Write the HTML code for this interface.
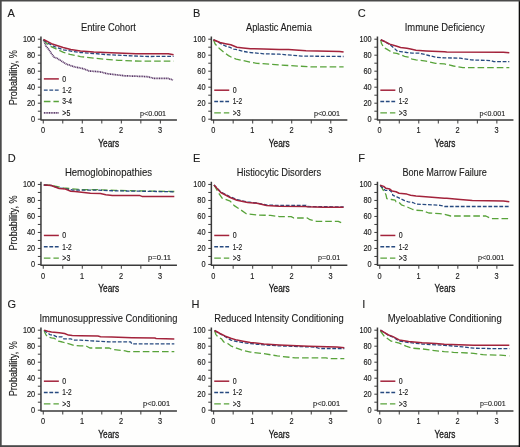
<!DOCTYPE html><html><head><meta charset="utf-8"><style>html,body{margin:0;padding:0;background:#fefefd;}svg{display:block;will-change:transform} text{stroke:#1c1c1c;stroke-width:0.12px} text.tk{stroke-width:0.16px}</style></head><body>
<svg width="520" height="447" viewBox="0 0 520 447" font-family="Liberation Sans, sans-serif" stroke-linejoin="round">
<rect x="0" y="0" width="520" height="447" fill="#fefefd"/>
<g><text x="7.40" y="16.80" font-size="11" fill="#1c1c1c">A</text><text x="80.95" y="31.20" font-size="10.1" fill="#1c1c1c" textLength="55.00" lengthAdjust="spacingAndGlyphs">Entire Cohort</text><path d="M40.95,36.40V119.90H176.95" stroke="#3a3a3a" stroke-width="1.5" fill="none"/><path d="M37.85,39.20H40.95M37.85,47.20H40.95M37.85,55.20H40.95M37.85,63.20H40.95M37.85,71.20H40.95M37.85,79.20H40.95M37.85,87.20H40.95M37.85,95.20H40.95M37.85,103.20H40.95M37.85,111.20H40.95M37.85,119.20H40.95M43.25,119.90V123.50M62.77,119.90V123.50M82.29,119.90V123.50M101.81,119.90V123.50M121.33,119.90V123.50M140.85,119.90V123.50M160.37,119.90V123.50" stroke="#3a3a3a" stroke-width="1" fill="none"/><text x="22.95" y="42.10" font-size="8.3" fill="#1c1c1c" textLength="12.2" lengthAdjust="spacingAndGlyphs" class="tk">100</text><text x="26.95" y="58.10" font-size="8.3" fill="#1c1c1c" textLength="8.2" lengthAdjust="spacingAndGlyphs" class="tk">80</text><text x="26.95" y="74.10" font-size="8.3" fill="#1c1c1c" textLength="8.2" lengthAdjust="spacingAndGlyphs" class="tk">60</text><text x="26.95" y="90.10" font-size="8.3" fill="#1c1c1c" textLength="8.2" lengthAdjust="spacingAndGlyphs" class="tk">40</text><text x="26.95" y="106.10" font-size="8.3" fill="#1c1c1c" textLength="8.2" lengthAdjust="spacingAndGlyphs" class="tk">20</text><text x="31.05" y="122.10" font-size="8.3" fill="#1c1c1c" textLength="4.1" lengthAdjust="spacingAndGlyphs" class="tk">0</text><text x="40.90" y="133.40" font-size="8.3" fill="#1c1c1c" textLength="4.1" lengthAdjust="spacingAndGlyphs" class="tk">0</text><text x="79.94" y="133.40" font-size="8.3" fill="#1c1c1c" textLength="4.1" lengthAdjust="spacingAndGlyphs" class="tk">1</text><text x="118.98" y="133.40" font-size="8.3" fill="#1c1c1c" textLength="4.1" lengthAdjust="spacingAndGlyphs" class="tk">2</text><text x="158.02" y="133.40" font-size="8.3" fill="#1c1c1c" textLength="4.1" lengthAdjust="spacingAndGlyphs" class="tk">3</text><text x="98.30" y="146.60" font-size="10" fill="#1c1c1c" textLength="20.9" lengthAdjust="spacingAndGlyphs" style="stroke-width:0.3px">Years</text><text transform="translate(16.8,77.70) rotate(-90)" x="-27.6" y="0" font-size="10.6" fill="#1c1c1c" textLength="55.2" lengthAdjust="spacingAndGlyphs">Probability, %</text><text x="140.00" y="116.00" font-size="7.4" fill="#1c1c1c" textLength="26.10" lengthAdjust="spacingAndGlyphs">p&lt;0.001</text><path d="M43.85,78.90H58.85" stroke="#a3233b" stroke-width="1.5" fill="none" stroke-linejoin="round"/><text x="62.35" y="81.65" font-size="8.2" fill="#1c1c1c" class="tk" textLength="3.9" lengthAdjust="spacingAndGlyphs">0</text><path d="M43.85,90.20H58.85" stroke="#274a80" stroke-width="1.3" fill="none" stroke-dasharray="3.8 1.7"/><text x="62.35" y="92.95" font-size="8.2" fill="#1c1c1c" class="tk" textLength="9.4" lengthAdjust="spacingAndGlyphs">1-2</text><path d="M43.85,101.50H58.85" stroke="#58a33a" stroke-width="1.3" fill="none" stroke-dasharray="6.6 3.0"/><text x="62.35" y="104.25" font-size="8.2" fill="#1c1c1c" class="tk" textLength="9.8" lengthAdjust="spacingAndGlyphs">3-4</text><path d="M43.85,112.80H58.85" stroke="#5a3868" stroke-width="1.7" fill="none" stroke-dasharray="1.1 0.6"/><text x="62.35" y="115.55" font-size="8.2" fill="#1c1c1c" class="tk" textLength="8.0" lengthAdjust="spacingAndGlyphs">&gt;5</text><polyline points="43.5,39.6 44.4,42.0 46.0,46.1 48.7,49.4 51.4,53.4 54.1,57.2 56.8,58.1 60.1,60.2 66.2,64.0 73.8,66.7 83.1,68.6 89.2,71.0 100.0,71.8 107.3,73.7 124.6,75.8 147.1,76.6 154.0,78.4 167.9,78.4 173.0,80.0" stroke="#5a3868" stroke-width="1.7" fill="none" stroke-dasharray="1.1 0.6"/><polyline points="43.5,40.0 46.0,42.7 50.0,46.1 56.8,49.3 63.5,52.4 70.0,54.3 80.4,56.6 93.8,58.1 105.0,59.2 118.5,60.3 140.0,61.2 173.6,61.2" stroke="#58a33a" stroke-width="1.3" fill="none" stroke-dasharray="6.6 3.0"/><polyline points="43.5,40.0 47.7,43.0 53.4,46.2 63.5,49.8 73.6,51.6 80.4,52.5 93.8,53.5 105.0,54.5 131.9,55.9 149.4,56.5 173.6,56.3" stroke="#274a80" stroke-width="1.3" fill="none" stroke-dasharray="3.8 1.7"/><polyline points="43.5,39.5 51.5,43.7 63.1,47.5 70.8,49.5 80.4,50.9 93.8,52.1 105.0,52.5 136.0,53.8 168.3,53.8 173.6,54.8" stroke="#a3233b" stroke-width="1.5" fill="none" stroke-linejoin="round"/></g>
<g><text x="193.00" y="16.80" font-size="11" fill="#1c1c1c">B</text><text x="246.00" y="31.20" font-size="10.1" fill="#1c1c1c" textLength="65.80" lengthAdjust="spacingAndGlyphs">Aplastic Anemia</text><path d="M211.35,36.40V119.90H347.35" stroke="#3a3a3a" stroke-width="1.5" fill="none"/><path d="M208.25,39.20H211.35M208.25,47.20H211.35M208.25,55.20H211.35M208.25,63.20H211.35M208.25,71.20H211.35M208.25,79.20H211.35M208.25,87.20H211.35M208.25,95.20H211.35M208.25,103.20H211.35M208.25,111.20H211.35M208.25,119.20H211.35M213.65,119.90V123.50M233.17,119.90V123.50M252.69,119.90V123.50M272.21,119.90V123.50M291.73,119.90V123.50M311.25,119.90V123.50M330.77,119.90V123.50" stroke="#3a3a3a" stroke-width="1" fill="none"/><text x="193.35" y="42.10" font-size="8.3" fill="#1c1c1c" textLength="12.2" lengthAdjust="spacingAndGlyphs" class="tk">100</text><text x="197.35" y="58.10" font-size="8.3" fill="#1c1c1c" textLength="8.2" lengthAdjust="spacingAndGlyphs" class="tk">80</text><text x="197.35" y="74.10" font-size="8.3" fill="#1c1c1c" textLength="8.2" lengthAdjust="spacingAndGlyphs" class="tk">60</text><text x="197.35" y="90.10" font-size="8.3" fill="#1c1c1c" textLength="8.2" lengthAdjust="spacingAndGlyphs" class="tk">40</text><text x="197.35" y="106.10" font-size="8.3" fill="#1c1c1c" textLength="8.2" lengthAdjust="spacingAndGlyphs" class="tk">20</text><text x="201.45" y="122.10" font-size="8.3" fill="#1c1c1c" textLength="4.1" lengthAdjust="spacingAndGlyphs" class="tk">0</text><text x="211.30" y="133.40" font-size="8.3" fill="#1c1c1c" textLength="4.1" lengthAdjust="spacingAndGlyphs" class="tk">0</text><text x="250.34" y="133.40" font-size="8.3" fill="#1c1c1c" textLength="4.1" lengthAdjust="spacingAndGlyphs" class="tk">1</text><text x="289.38" y="133.40" font-size="8.3" fill="#1c1c1c" textLength="4.1" lengthAdjust="spacingAndGlyphs" class="tk">2</text><text x="328.42" y="133.40" font-size="8.3" fill="#1c1c1c" textLength="4.1" lengthAdjust="spacingAndGlyphs" class="tk">3</text><text x="268.75" y="146.60" font-size="10" fill="#1c1c1c" textLength="20.9" lengthAdjust="spacingAndGlyphs" style="stroke-width:0.3px">Years</text><text x="313.90" y="116.00" font-size="7.4" fill="#1c1c1c" textLength="26.20" lengthAdjust="spacingAndGlyphs">p&lt;0.001</text><path d="M214.25,90.20H229.25" stroke="#a3233b" stroke-width="1.5" fill="none" stroke-linejoin="round"/><text x="232.75" y="92.95" font-size="8.2" fill="#1c1c1c" class="tk" textLength="3.9" lengthAdjust="spacingAndGlyphs">0</text><path d="M214.25,101.50H229.25" stroke="#274a80" stroke-width="1.3" fill="none" stroke-dasharray="3.8 1.7"/><text x="232.75" y="104.25" font-size="8.2" fill="#1c1c1c" class="tk" textLength="9.4" lengthAdjust="spacingAndGlyphs">1-2</text><path d="M214.25,112.80H229.25" stroke="#58a33a" stroke-width="1.3" fill="none" stroke-dasharray="6.6 3.0"/><text x="232.75" y="115.55" font-size="8.2" fill="#1c1c1c" class="tk" textLength="8.0" lengthAdjust="spacingAndGlyphs">&gt;3</text><polyline points="213.5,39.7 215.0,43.7 217.7,46.8 220.0,49.1 223.8,52.2 228.5,55.6 231.5,57.2 236.2,59.1 243.1,60.6 250.0,62.2 257.1,63.3 279.3,64.9 291.2,65.7 312.7,66.9 343.6,66.9" stroke="#58a33a" stroke-width="1.3" fill="none" stroke-dasharray="6.6 3.0"/><polyline points="213.5,39.7 220.8,43.6 225.4,46.0 230.0,47.3 233.8,49.2 237.7,49.8 242.3,51.2 246.9,52.0 250.4,52.5 263.8,53.8 279.3,54.2 291.2,55.2 301.9,56.1 343.6,56.5" stroke="#274a80" stroke-width="1.3" fill="none" stroke-dasharray="3.8 1.7"/><polyline points="213.5,39.7 220.0,42.5 225.4,43.7 230.8,44.8 236.9,47.2 243.1,47.9 250.4,48.7 263.8,49.1 279.3,49.5 288.5,49.5 306.0,50.7 339.6,51.4 343.6,52.1" stroke="#a3233b" stroke-width="1.5" fill="none" stroke-linejoin="round"/></g>
<g><text x="357.70" y="16.80" font-size="11" fill="#1c1c1c">C</text><text x="404.75" y="31.20" font-size="10.1" fill="#1c1c1c" textLength="79.90" lengthAdjust="spacingAndGlyphs">Immune Deficiency</text><path d="M377.45,36.40V119.90H513.45" stroke="#3a3a3a" stroke-width="1.5" fill="none"/><path d="M374.35,39.20H377.45M374.35,47.20H377.45M374.35,55.20H377.45M374.35,63.20H377.45M374.35,71.20H377.45M374.35,79.20H377.45M374.35,87.20H377.45M374.35,95.20H377.45M374.35,103.20H377.45M374.35,111.20H377.45M374.35,119.20H377.45M379.75,119.90V123.50M399.27,119.90V123.50M418.79,119.90V123.50M438.31,119.90V123.50M457.83,119.90V123.50M477.35,119.90V123.50M496.87,119.90V123.50" stroke="#3a3a3a" stroke-width="1" fill="none"/><text x="359.45" y="42.10" font-size="8.3" fill="#1c1c1c" textLength="12.2" lengthAdjust="spacingAndGlyphs" class="tk">100</text><text x="363.45" y="58.10" font-size="8.3" fill="#1c1c1c" textLength="8.2" lengthAdjust="spacingAndGlyphs" class="tk">80</text><text x="363.45" y="74.10" font-size="8.3" fill="#1c1c1c" textLength="8.2" lengthAdjust="spacingAndGlyphs" class="tk">60</text><text x="363.45" y="90.10" font-size="8.3" fill="#1c1c1c" textLength="8.2" lengthAdjust="spacingAndGlyphs" class="tk">40</text><text x="363.45" y="106.10" font-size="8.3" fill="#1c1c1c" textLength="8.2" lengthAdjust="spacingAndGlyphs" class="tk">20</text><text x="367.55" y="122.10" font-size="8.3" fill="#1c1c1c" textLength="4.1" lengthAdjust="spacingAndGlyphs" class="tk">0</text><text x="377.40" y="133.40" font-size="8.3" fill="#1c1c1c" textLength="4.1" lengthAdjust="spacingAndGlyphs" class="tk">0</text><text x="416.44" y="133.40" font-size="8.3" fill="#1c1c1c" textLength="4.1" lengthAdjust="spacingAndGlyphs" class="tk">1</text><text x="455.48" y="133.40" font-size="8.3" fill="#1c1c1c" textLength="4.1" lengthAdjust="spacingAndGlyphs" class="tk">2</text><text x="494.52" y="133.40" font-size="8.3" fill="#1c1c1c" textLength="4.1" lengthAdjust="spacingAndGlyphs" class="tk">3</text><text x="434.55" y="146.60" font-size="10" fill="#1c1c1c" textLength="20.9" lengthAdjust="spacingAndGlyphs" style="stroke-width:0.3px">Years</text><text x="479.40" y="116.00" font-size="7.4" fill="#1c1c1c" textLength="25.70" lengthAdjust="spacingAndGlyphs">p&lt;0.001</text><path d="M380.35,90.20H395.35" stroke="#a3233b" stroke-width="1.5" fill="none" stroke-linejoin="round"/><text x="398.85" y="92.95" font-size="8.2" fill="#1c1c1c" class="tk" textLength="3.9" lengthAdjust="spacingAndGlyphs">0</text><path d="M380.35,101.50H395.35" stroke="#274a80" stroke-width="1.3" fill="none" stroke-dasharray="3.8 1.7"/><text x="398.85" y="104.25" font-size="8.2" fill="#1c1c1c" class="tk" textLength="9.4" lengthAdjust="spacingAndGlyphs">1-2</text><path d="M380.35,112.80H395.35" stroke="#58a33a" stroke-width="1.3" fill="none" stroke-dasharray="6.6 3.0"/><text x="398.85" y="115.55" font-size="8.2" fill="#1c1c1c" class="tk" textLength="8.0" lengthAdjust="spacingAndGlyphs">&gt;3</text><polyline points="380.8,39.8 381.4,43.3 383.7,47.5 386.8,49.1 389.8,51.0 392.9,52.9 396.8,53.3 400.6,54.8 404.5,56.4 408.3,57.2 412.2,59.1 416.0,59.8 426.1,61.2 435.6,63.3 444.3,63.9 453.5,66.0 462.9,67.6 509.3,67.6" stroke="#58a33a" stroke-width="1.3" fill="none" stroke-dasharray="6.6 3.0"/><polyline points="380.8,39.8 385.2,41.8 389.8,44.6 394.5,48.5 397.5,51.2 402.2,51.8 406.8,52.5 412.2,53.1 419.4,53.2 428.8,55.5 435.6,57.2 444.3,57.9 460.2,58.1 471.0,59.9 491.1,60.6 493.8,61.6 509.3,61.6" stroke="#274a80" stroke-width="1.3" fill="none" stroke-dasharray="3.8 1.7"/><polyline points="380.8,39.8 385.2,41.8 389.8,44.1 396.0,46.0 400.6,47.5 406.8,48.3 410.6,49.1 416.0,50.2 426.1,50.9 444.3,51.8 446.7,52.1 503.3,52.2 509.3,52.8" stroke="#a3233b" stroke-width="1.5" fill="none" stroke-linejoin="round"/></g>
<g><text x="7.70" y="162.05" font-size="11" fill="#1c1c1c">D</text><text x="64.90" y="176.00" font-size="10.1" fill="#1c1c1c" textLength="87.10" lengthAdjust="spacingAndGlyphs">Hemoglobinopathies</text><path d="M40.95,181.65V265.15H176.95" stroke="#3a3a3a" stroke-width="1.5" fill="none"/><path d="M37.85,184.45H40.95M37.85,192.45H40.95M37.85,200.45H40.95M37.85,208.45H40.95M37.85,216.45H40.95M37.85,224.45H40.95M37.85,232.45H40.95M37.85,240.45H40.95M37.85,248.45H40.95M37.85,256.45H40.95M37.85,264.45H40.95M43.25,265.15V268.75M62.77,265.15V268.75M82.29,265.15V268.75M101.81,265.15V268.75M121.33,265.15V268.75M140.85,265.15V268.75M160.37,265.15V268.75" stroke="#3a3a3a" stroke-width="1" fill="none"/><text x="22.95" y="187.35" font-size="8.3" fill="#1c1c1c" textLength="12.2" lengthAdjust="spacingAndGlyphs" class="tk">100</text><text x="26.95" y="203.35" font-size="8.3" fill="#1c1c1c" textLength="8.2" lengthAdjust="spacingAndGlyphs" class="tk">80</text><text x="26.95" y="219.35" font-size="8.3" fill="#1c1c1c" textLength="8.2" lengthAdjust="spacingAndGlyphs" class="tk">60</text><text x="26.95" y="235.35" font-size="8.3" fill="#1c1c1c" textLength="8.2" lengthAdjust="spacingAndGlyphs" class="tk">40</text><text x="26.95" y="251.35" font-size="8.3" fill="#1c1c1c" textLength="8.2" lengthAdjust="spacingAndGlyphs" class="tk">20</text><text x="31.05" y="267.35" font-size="8.3" fill="#1c1c1c" textLength="4.1" lengthAdjust="spacingAndGlyphs" class="tk">0</text><text x="40.90" y="278.65" font-size="8.3" fill="#1c1c1c" textLength="4.1" lengthAdjust="spacingAndGlyphs" class="tk">0</text><text x="79.94" y="278.65" font-size="8.3" fill="#1c1c1c" textLength="4.1" lengthAdjust="spacingAndGlyphs" class="tk">1</text><text x="118.98" y="278.65" font-size="8.3" fill="#1c1c1c" textLength="4.1" lengthAdjust="spacingAndGlyphs" class="tk">2</text><text x="158.02" y="278.65" font-size="8.3" fill="#1c1c1c" textLength="4.1" lengthAdjust="spacingAndGlyphs" class="tk">3</text><text x="98.30" y="291.85" font-size="10" fill="#1c1c1c" textLength="20.9" lengthAdjust="spacingAndGlyphs" style="stroke-width:0.3px">Years</text><text transform="translate(16.8,222.95) rotate(-90)" x="-27.6" y="0" font-size="10.6" fill="#1c1c1c" textLength="55.2" lengthAdjust="spacingAndGlyphs">Probability, %</text><text x="148.10" y="259.50" font-size="7.4" fill="#1c1c1c" textLength="23.00" lengthAdjust="spacingAndGlyphs">p=0.11</text><path d="M43.85,235.45H58.85" stroke="#a3233b" stroke-width="1.5" fill="none" stroke-linejoin="round"/><text x="62.35" y="238.20" font-size="8.2" fill="#1c1c1c" class="tk" textLength="3.9" lengthAdjust="spacingAndGlyphs">0</text><path d="M43.85,246.75H58.85" stroke="#274a80" stroke-width="1.3" fill="none" stroke-dasharray="3.8 1.7"/><text x="62.35" y="249.50" font-size="8.2" fill="#1c1c1c" class="tk" textLength="9.4" lengthAdjust="spacingAndGlyphs">1-2</text><path d="M43.85,258.05H58.85" stroke="#58a33a" stroke-width="1.3" fill="none" stroke-dasharray="6.6 3.0"/><text x="62.35" y="260.80" font-size="8.2" fill="#1c1c1c" class="tk" textLength="8.0" lengthAdjust="spacingAndGlyphs">&gt;3</text><polyline points="43.8,185.0 51.5,185.2 55.4,186.2 63.0,187.9 71.5,188.7 80.4,189.6 95.0,189.6 115.0,190.4 145.4,191.0 174.3,191.5" stroke="#58a33a" stroke-width="1.3" fill="none" stroke-dasharray="6.6 3.0"/><polyline points="43.8,185.0 51.5,185.5 53.8,186.5 59.2,188.0 63.0,188.4 72.3,190.0 80.4,190.1 95.0,190.1 115.0,190.8 145.4,191.3 174.3,191.8" stroke="#274a80" stroke-width="1.3" fill="none" stroke-dasharray="3.8 1.7"/><polyline points="43.8,185.0 51.5,185.5 53.8,186.5 59.2,188.5 65.4,189.1 70.8,191.2 75.0,191.6 90.4,193.2 100.4,193.5 105.8,194.7 112.4,195.6 140.0,195.6 142.0,196.4 174.3,196.4" stroke="#a3233b" stroke-width="1.5" fill="none" stroke-linejoin="round"/></g>
<g><text x="193.00" y="162.05" font-size="11" fill="#1c1c1c">E</text><text x="236.70" y="176.00" font-size="10.1" fill="#1c1c1c" textLength="84.40" lengthAdjust="spacingAndGlyphs">Histiocytic Disorders</text><path d="M211.35,181.65V265.15H347.35" stroke="#3a3a3a" stroke-width="1.5" fill="none"/><path d="M208.25,184.45H211.35M208.25,192.45H211.35M208.25,200.45H211.35M208.25,208.45H211.35M208.25,216.45H211.35M208.25,224.45H211.35M208.25,232.45H211.35M208.25,240.45H211.35M208.25,248.45H211.35M208.25,256.45H211.35M208.25,264.45H211.35M213.65,265.15V268.75M233.17,265.15V268.75M252.69,265.15V268.75M272.21,265.15V268.75M291.73,265.15V268.75M311.25,265.15V268.75M330.77,265.15V268.75" stroke="#3a3a3a" stroke-width="1" fill="none"/><text x="193.35" y="187.35" font-size="8.3" fill="#1c1c1c" textLength="12.2" lengthAdjust="spacingAndGlyphs" class="tk">100</text><text x="197.35" y="203.35" font-size="8.3" fill="#1c1c1c" textLength="8.2" lengthAdjust="spacingAndGlyphs" class="tk">80</text><text x="197.35" y="219.35" font-size="8.3" fill="#1c1c1c" textLength="8.2" lengthAdjust="spacingAndGlyphs" class="tk">60</text><text x="197.35" y="235.35" font-size="8.3" fill="#1c1c1c" textLength="8.2" lengthAdjust="spacingAndGlyphs" class="tk">40</text><text x="197.35" y="251.35" font-size="8.3" fill="#1c1c1c" textLength="8.2" lengthAdjust="spacingAndGlyphs" class="tk">20</text><text x="201.45" y="267.35" font-size="8.3" fill="#1c1c1c" textLength="4.1" lengthAdjust="spacingAndGlyphs" class="tk">0</text><text x="211.30" y="278.65" font-size="8.3" fill="#1c1c1c" textLength="4.1" lengthAdjust="spacingAndGlyphs" class="tk">0</text><text x="250.34" y="278.65" font-size="8.3" fill="#1c1c1c" textLength="4.1" lengthAdjust="spacingAndGlyphs" class="tk">1</text><text x="289.38" y="278.65" font-size="8.3" fill="#1c1c1c" textLength="4.1" lengthAdjust="spacingAndGlyphs" class="tk">2</text><text x="328.42" y="278.65" font-size="8.3" fill="#1c1c1c" textLength="4.1" lengthAdjust="spacingAndGlyphs" class="tk">3</text><text x="268.75" y="291.85" font-size="10" fill="#1c1c1c" textLength="20.9" lengthAdjust="spacingAndGlyphs" style="stroke-width:0.3px">Years</text><text x="318.10" y="259.50" font-size="7.4" fill="#1c1c1c" textLength="22.00" lengthAdjust="spacingAndGlyphs">p=0.01</text><path d="M214.25,235.45H229.25" stroke="#a3233b" stroke-width="1.5" fill="none" stroke-linejoin="round"/><text x="232.75" y="238.20" font-size="8.2" fill="#1c1c1c" class="tk" textLength="3.9" lengthAdjust="spacingAndGlyphs">0</text><path d="M214.25,246.75H229.25" stroke="#274a80" stroke-width="1.3" fill="none" stroke-dasharray="3.8 1.7"/><text x="232.75" y="249.50" font-size="8.2" fill="#1c1c1c" class="tk" textLength="9.4" lengthAdjust="spacingAndGlyphs">1-2</text><path d="M214.25,258.05H229.25" stroke="#58a33a" stroke-width="1.3" fill="none" stroke-dasharray="6.6 3.0"/><text x="232.75" y="260.80" font-size="8.2" fill="#1c1c1c" class="tk" textLength="8.0" lengthAdjust="spacingAndGlyphs">&gt;3</text><polyline points="214.0,185.0 218.1,192.1 222.1,198.2 230.2,201.1 234.2,205.6 241.0,210.0 246.3,213.7 257.1,215.0 270.6,215.4 279.3,216.6 291.2,216.6 293.8,218.0 307.3,218.0 310.0,219.7 316.7,221.3 338.3,221.3 342.3,223.1" stroke="#58a33a" stroke-width="1.3" fill="none" stroke-dasharray="6.6 3.0"/><polyline points="214.0,185.0 216.7,187.6 220.8,192.0 230.2,196.8 236.9,199.6 247.7,202.0 257.1,203.0 266.5,205.0 279.3,205.5 306.0,205.3 307.3,206.5 343.6,206.9" stroke="#274a80" stroke-width="1.3" fill="none" stroke-dasharray="3.8 1.7"/><polyline points="214.0,185.0 216.7,188.1 220.8,192.5 230.2,197.5 236.9,200.2 247.7,202.5 257.1,203.3 266.5,205.6 279.3,206.3 306.0,206.5 307.3,206.7 323.5,207.3 343.6,207.3" stroke="#a3233b" stroke-width="1.5" fill="none" stroke-linejoin="round"/></g>
<g><text x="358.30" y="162.05" font-size="11" fill="#1c1c1c">F</text><text x="402.45" y="176.00" font-size="10.1" fill="#1c1c1c" textLength="84.50" lengthAdjust="spacingAndGlyphs">Bone Marrow Failure</text><path d="M377.45,181.65V265.15H513.45" stroke="#3a3a3a" stroke-width="1.5" fill="none"/><path d="M374.35,184.45H377.45M374.35,192.45H377.45M374.35,200.45H377.45M374.35,208.45H377.45M374.35,216.45H377.45M374.35,224.45H377.45M374.35,232.45H377.45M374.35,240.45H377.45M374.35,248.45H377.45M374.35,256.45H377.45M374.35,264.45H377.45M379.75,265.15V268.75M399.27,265.15V268.75M418.79,265.15V268.75M438.31,265.15V268.75M457.83,265.15V268.75M477.35,265.15V268.75M496.87,265.15V268.75" stroke="#3a3a3a" stroke-width="1" fill="none"/><text x="359.45" y="187.35" font-size="8.3" fill="#1c1c1c" textLength="12.2" lengthAdjust="spacingAndGlyphs" class="tk">100</text><text x="363.45" y="203.35" font-size="8.3" fill="#1c1c1c" textLength="8.2" lengthAdjust="spacingAndGlyphs" class="tk">80</text><text x="363.45" y="219.35" font-size="8.3" fill="#1c1c1c" textLength="8.2" lengthAdjust="spacingAndGlyphs" class="tk">60</text><text x="363.45" y="235.35" font-size="8.3" fill="#1c1c1c" textLength="8.2" lengthAdjust="spacingAndGlyphs" class="tk">40</text><text x="363.45" y="251.35" font-size="8.3" fill="#1c1c1c" textLength="8.2" lengthAdjust="spacingAndGlyphs" class="tk">20</text><text x="367.55" y="267.35" font-size="8.3" fill="#1c1c1c" textLength="4.1" lengthAdjust="spacingAndGlyphs" class="tk">0</text><text x="377.40" y="278.65" font-size="8.3" fill="#1c1c1c" textLength="4.1" lengthAdjust="spacingAndGlyphs" class="tk">0</text><text x="416.44" y="278.65" font-size="8.3" fill="#1c1c1c" textLength="4.1" lengthAdjust="spacingAndGlyphs" class="tk">1</text><text x="455.48" y="278.65" font-size="8.3" fill="#1c1c1c" textLength="4.1" lengthAdjust="spacingAndGlyphs" class="tk">2</text><text x="494.52" y="278.65" font-size="8.3" fill="#1c1c1c" textLength="4.1" lengthAdjust="spacingAndGlyphs" class="tk">3</text><text x="434.55" y="291.85" font-size="10" fill="#1c1c1c" textLength="20.9" lengthAdjust="spacingAndGlyphs" style="stroke-width:0.3px">Years</text><text x="478.00" y="259.50" font-size="7.4" fill="#1c1c1c" textLength="26.20" lengthAdjust="spacingAndGlyphs">p&lt;0.001</text><path d="M380.35,235.45H395.35" stroke="#a3233b" stroke-width="1.5" fill="none" stroke-linejoin="round"/><text x="398.85" y="238.20" font-size="8.2" fill="#1c1c1c" class="tk" textLength="3.9" lengthAdjust="spacingAndGlyphs">0</text><path d="M380.35,246.75H395.35" stroke="#274a80" stroke-width="1.3" fill="none" stroke-dasharray="3.8 1.7"/><text x="398.85" y="249.50" font-size="8.2" fill="#1c1c1c" class="tk" textLength="9.4" lengthAdjust="spacingAndGlyphs">1-2</text><path d="M380.35,258.05H395.35" stroke="#58a33a" stroke-width="1.3" fill="none" stroke-dasharray="6.6 3.0"/><text x="398.85" y="260.80" font-size="8.2" fill="#1c1c1c" class="tk" textLength="8.0" lengthAdjust="spacingAndGlyphs">&gt;3</text><polyline points="380.2,185.2 382.2,188.3 384.5,192.2 386.0,194.8 386.8,198.7 391.4,199.5 395.2,200.2 396.0,201.8 399.1,202.5 401.4,204.8 404.5,206.0 408.3,207.5 412.9,209.5 416.0,210.2 422.1,210.6 428.8,213.0 439.6,213.7 444.3,214.2 450.8,216.0 485.8,216.0 491.1,218.6 509.3,218.6" stroke="#58a33a" stroke-width="1.3" fill="none" stroke-dasharray="6.6 3.0"/><polyline points="380.2,185.2 385.2,190.4 389.8,190.2 392.2,192.5 392.9,195.4 396.8,196.8 400.6,198.7 404.5,200.6 408.3,201.8 412.9,202.5 416.0,204.1 440.0,205.3 444.7,206.5 509.3,206.5" stroke="#274a80" stroke-width="1.3" fill="none" stroke-dasharray="3.8 1.7"/><polyline points="380.2,185.2 383.7,186.4 386.0,188.3 389.8,189.1 392.2,191.0 396.0,191.8 399.1,193.3 406.8,194.1 410.6,195.2 416.0,196.0 428.8,197.1 444.3,198.2 446.7,198.2 460.2,199.5 472.3,200.5 503.3,200.9 509.3,201.8" stroke="#a3233b" stroke-width="1.5" fill="none" stroke-linejoin="round"/></g>
<g><text x="7.40" y="307.80" font-size="11" fill="#1c1c1c">G</text><text x="39.40" y="321.70" font-size="10.1" fill="#1c1c1c" textLength="138.10" lengthAdjust="spacingAndGlyphs">Immunosuppressive Conditioning</text><path d="M40.95,327.40V410.90H176.95" stroke="#3a3a3a" stroke-width="1.5" fill="none"/><path d="M37.85,330.20H40.95M37.85,338.20H40.95M37.85,346.20H40.95M37.85,354.20H40.95M37.85,362.20H40.95M37.85,370.20H40.95M37.85,378.20H40.95M37.85,386.20H40.95M37.85,394.20H40.95M37.85,402.20H40.95M37.85,410.20H40.95M43.25,410.90V414.50M62.77,410.90V414.50M82.29,410.90V414.50M101.81,410.90V414.50M121.33,410.90V414.50M140.85,410.90V414.50M160.37,410.90V414.50" stroke="#3a3a3a" stroke-width="1" fill="none"/><text x="22.95" y="333.10" font-size="8.3" fill="#1c1c1c" textLength="12.2" lengthAdjust="spacingAndGlyphs" class="tk">100</text><text x="26.95" y="349.10" font-size="8.3" fill="#1c1c1c" textLength="8.2" lengthAdjust="spacingAndGlyphs" class="tk">80</text><text x="26.95" y="365.10" font-size="8.3" fill="#1c1c1c" textLength="8.2" lengthAdjust="spacingAndGlyphs" class="tk">60</text><text x="26.95" y="381.10" font-size="8.3" fill="#1c1c1c" textLength="8.2" lengthAdjust="spacingAndGlyphs" class="tk">40</text><text x="26.95" y="397.10" font-size="8.3" fill="#1c1c1c" textLength="8.2" lengthAdjust="spacingAndGlyphs" class="tk">20</text><text x="31.05" y="413.10" font-size="8.3" fill="#1c1c1c" textLength="4.1" lengthAdjust="spacingAndGlyphs" class="tk">0</text><text x="40.90" y="424.40" font-size="8.3" fill="#1c1c1c" textLength="4.1" lengthAdjust="spacingAndGlyphs" class="tk">0</text><text x="79.94" y="424.40" font-size="8.3" fill="#1c1c1c" textLength="4.1" lengthAdjust="spacingAndGlyphs" class="tk">1</text><text x="118.98" y="424.40" font-size="8.3" fill="#1c1c1c" textLength="4.1" lengthAdjust="spacingAndGlyphs" class="tk">2</text><text x="158.02" y="424.40" font-size="8.3" fill="#1c1c1c" textLength="4.1" lengthAdjust="spacingAndGlyphs" class="tk">3</text><text x="98.30" y="437.60" font-size="10" fill="#1c1c1c" textLength="20.9" lengthAdjust="spacingAndGlyphs" style="stroke-width:0.3px">Years</text><text transform="translate(16.8,368.70) rotate(-90)" x="-27.6" y="0" font-size="10.6" fill="#1c1c1c" textLength="55.2" lengthAdjust="spacingAndGlyphs">Probability, %</text><text x="143.00" y="405.60" font-size="7.4" fill="#1c1c1c" textLength="27.10" lengthAdjust="spacingAndGlyphs">p&lt;0.001</text><path d="M43.85,381.20H58.85" stroke="#a3233b" stroke-width="1.5" fill="none" stroke-linejoin="round"/><text x="62.35" y="383.95" font-size="8.2" fill="#1c1c1c" class="tk" textLength="3.9" lengthAdjust="spacingAndGlyphs">0</text><path d="M43.85,392.50H58.85" stroke="#274a80" stroke-width="1.3" fill="none" stroke-dasharray="3.8 1.7"/><text x="62.35" y="395.25" font-size="8.2" fill="#1c1c1c" class="tk" textLength="9.4" lengthAdjust="spacingAndGlyphs">1-2</text><path d="M43.85,403.80H58.85" stroke="#58a33a" stroke-width="1.3" fill="none" stroke-dasharray="6.6 3.0"/><text x="62.35" y="406.55" font-size="8.2" fill="#1c1c1c" class="tk" textLength="8.0" lengthAdjust="spacingAndGlyphs">&gt;3</text><polyline points="44.2,330.1 44.6,332.0 46.2,335.1 47.7,336.8 51.5,337.8 54.6,338.4 56.2,339.7 58.5,341.2 62.3,342.0 66.2,343.2 70.8,344.3 73.8,345.5 80.0,345.8 85.8,345.8 89.8,348.0 109.3,348.0 111.7,349.3 125.2,350.9 127.9,351.6 174.3,351.6" stroke="#58a33a" stroke-width="1.3" fill="none" stroke-dasharray="6.6 3.0"/><polyline points="44.2,330.1 46.2,332.0 48.5,333.5 50.0,334.7 53.8,335.3 56.9,336.8 62.3,336.8 63.8,338.9 70.8,338.9 73.8,340.1 80.4,340.2 91.1,340.8 109.3,341.9 130.6,341.9 131.9,343.9 174.3,343.9" stroke="#274a80" stroke-width="1.3" fill="none" stroke-dasharray="3.8 1.7"/><polyline points="44.2,330.1 47.7,331.2 51.5,332.0 59.2,332.8 64.6,333.5 68.5,335.1 72.3,335.5 80.4,335.8 97.9,336.1 100.6,336.8 111.7,337.1 131.9,337.7 154.8,338.0 156.1,338.5 174.3,339.1" stroke="#a3233b" stroke-width="1.5" fill="none" stroke-linejoin="round"/></g>
<g><text x="191.60" y="307.80" font-size="11" fill="#1c1c1c">H</text><text x="214.15" y="321.70" font-size="10.1" fill="#1c1c1c" textLength="129.50" lengthAdjust="spacingAndGlyphs">Reduced Intensity Conditioning</text><path d="M211.35,327.40V410.90H347.35" stroke="#3a3a3a" stroke-width="1.5" fill="none"/><path d="M208.25,330.20H211.35M208.25,338.20H211.35M208.25,346.20H211.35M208.25,354.20H211.35M208.25,362.20H211.35M208.25,370.20H211.35M208.25,378.20H211.35M208.25,386.20H211.35M208.25,394.20H211.35M208.25,402.20H211.35M208.25,410.20H211.35M213.65,410.90V414.50M233.17,410.90V414.50M252.69,410.90V414.50M272.21,410.90V414.50M291.73,410.90V414.50M311.25,410.90V414.50M330.77,410.90V414.50" stroke="#3a3a3a" stroke-width="1" fill="none"/><text x="193.35" y="333.10" font-size="8.3" fill="#1c1c1c" textLength="12.2" lengthAdjust="spacingAndGlyphs" class="tk">100</text><text x="197.35" y="349.10" font-size="8.3" fill="#1c1c1c" textLength="8.2" lengthAdjust="spacingAndGlyphs" class="tk">80</text><text x="197.35" y="365.10" font-size="8.3" fill="#1c1c1c" textLength="8.2" lengthAdjust="spacingAndGlyphs" class="tk">60</text><text x="197.35" y="381.10" font-size="8.3" fill="#1c1c1c" textLength="8.2" lengthAdjust="spacingAndGlyphs" class="tk">40</text><text x="197.35" y="397.10" font-size="8.3" fill="#1c1c1c" textLength="8.2" lengthAdjust="spacingAndGlyphs" class="tk">20</text><text x="201.45" y="413.10" font-size="8.3" fill="#1c1c1c" textLength="4.1" lengthAdjust="spacingAndGlyphs" class="tk">0</text><text x="211.30" y="424.40" font-size="8.3" fill="#1c1c1c" textLength="4.1" lengthAdjust="spacingAndGlyphs" class="tk">0</text><text x="250.34" y="424.40" font-size="8.3" fill="#1c1c1c" textLength="4.1" lengthAdjust="spacingAndGlyphs" class="tk">1</text><text x="289.38" y="424.40" font-size="8.3" fill="#1c1c1c" textLength="4.1" lengthAdjust="spacingAndGlyphs" class="tk">2</text><text x="328.42" y="424.40" font-size="8.3" fill="#1c1c1c" textLength="4.1" lengthAdjust="spacingAndGlyphs" class="tk">3</text><text x="268.75" y="437.60" font-size="10" fill="#1c1c1c" textLength="20.9" lengthAdjust="spacingAndGlyphs" style="stroke-width:0.3px">Years</text><text x="313.00" y="405.60" font-size="7.4" fill="#1c1c1c" textLength="27.10" lengthAdjust="spacingAndGlyphs">p&lt;0.001</text><path d="M214.25,381.20H229.25" stroke="#a3233b" stroke-width="1.5" fill="none" stroke-linejoin="round"/><text x="232.75" y="383.95" font-size="8.2" fill="#1c1c1c" class="tk" textLength="3.9" lengthAdjust="spacingAndGlyphs">0</text><path d="M214.25,392.50H229.25" stroke="#274a80" stroke-width="1.3" fill="none" stroke-dasharray="3.8 1.7"/><text x="232.75" y="395.25" font-size="8.2" fill="#1c1c1c" class="tk" textLength="9.4" lengthAdjust="spacingAndGlyphs">1-2</text><path d="M214.25,403.80H229.25" stroke="#58a33a" stroke-width="1.3" fill="none" stroke-dasharray="6.6 3.0"/><text x="232.75" y="406.55" font-size="8.2" fill="#1c1c1c" class="tk" textLength="8.0" lengthAdjust="spacingAndGlyphs">&gt;3</text><polyline points="214.6,330.5 215.8,334.3 217.7,336.6 221.5,338.9 223.8,342.0 227.7,343.5 230.8,345.8 235.4,347.8 240.8,349.7 244.6,350.8 250.4,352.1 263.8,353.6 277.3,355.9 295.2,357.9 326.1,357.9 328.8,358.7 344.3,358.7" stroke="#58a33a" stroke-width="1.3" fill="none" stroke-dasharray="6.6 3.0"/><polyline points="214.6,330.5 220.0,333.8 225.4,336.8 230.8,340.1 236.9,341.5 243.1,342.7 250.4,343.5 257.1,344.3 279.3,345.9 315.4,347.1 319.4,348.5 344.3,348.5" stroke="#274a80" stroke-width="1.3" fill="none" stroke-dasharray="3.8 1.7"/><polyline points="214.6,330.5 220.0,333.5 225.4,336.2 230.8,338.2 236.9,340.1 243.1,341.2 250.4,342.4 263.8,344.0 279.3,344.9 308.6,346.2 336.9,346.9 344.3,347.8" stroke="#a3233b" stroke-width="1.5" fill="none" stroke-linejoin="round"/></g>
<g><text x="362.20" y="307.80" font-size="11" fill="#1c1c1c">I</text><text x="387.65" y="321.70" font-size="10.1" fill="#1c1c1c" textLength="114.10" lengthAdjust="spacingAndGlyphs">Myeloablative Conditioning</text><path d="M377.45,327.40V410.90H513.45" stroke="#3a3a3a" stroke-width="1.5" fill="none"/><path d="M374.35,330.20H377.45M374.35,338.20H377.45M374.35,346.20H377.45M374.35,354.20H377.45M374.35,362.20H377.45M374.35,370.20H377.45M374.35,378.20H377.45M374.35,386.20H377.45M374.35,394.20H377.45M374.35,402.20H377.45M374.35,410.20H377.45M379.75,410.90V414.50M399.27,410.90V414.50M418.79,410.90V414.50M438.31,410.90V414.50M457.83,410.90V414.50M477.35,410.90V414.50M496.87,410.90V414.50" stroke="#3a3a3a" stroke-width="1" fill="none"/><text x="359.45" y="333.10" font-size="8.3" fill="#1c1c1c" textLength="12.2" lengthAdjust="spacingAndGlyphs" class="tk">100</text><text x="363.45" y="349.10" font-size="8.3" fill="#1c1c1c" textLength="8.2" lengthAdjust="spacingAndGlyphs" class="tk">80</text><text x="363.45" y="365.10" font-size="8.3" fill="#1c1c1c" textLength="8.2" lengthAdjust="spacingAndGlyphs" class="tk">60</text><text x="363.45" y="381.10" font-size="8.3" fill="#1c1c1c" textLength="8.2" lengthAdjust="spacingAndGlyphs" class="tk">40</text><text x="363.45" y="397.10" font-size="8.3" fill="#1c1c1c" textLength="8.2" lengthAdjust="spacingAndGlyphs" class="tk">20</text><text x="367.55" y="413.10" font-size="8.3" fill="#1c1c1c" textLength="4.1" lengthAdjust="spacingAndGlyphs" class="tk">0</text><text x="377.40" y="424.40" font-size="8.3" fill="#1c1c1c" textLength="4.1" lengthAdjust="spacingAndGlyphs" class="tk">0</text><text x="416.44" y="424.40" font-size="8.3" fill="#1c1c1c" textLength="4.1" lengthAdjust="spacingAndGlyphs" class="tk">1</text><text x="455.48" y="424.40" font-size="8.3" fill="#1c1c1c" textLength="4.1" lengthAdjust="spacingAndGlyphs" class="tk">2</text><text x="494.52" y="424.40" font-size="8.3" fill="#1c1c1c" textLength="4.1" lengthAdjust="spacingAndGlyphs" class="tk">3</text><text x="434.55" y="437.60" font-size="10" fill="#1c1c1c" textLength="20.9" lengthAdjust="spacingAndGlyphs" style="stroke-width:0.3px">Years</text><text x="479.90" y="405.60" font-size="7.4" fill="#1c1c1c" textLength="25.70" lengthAdjust="spacingAndGlyphs">p=0.001</text><path d="M380.35,381.20H395.35" stroke="#a3233b" stroke-width="1.5" fill="none" stroke-linejoin="round"/><text x="398.85" y="383.95" font-size="8.2" fill="#1c1c1c" class="tk" textLength="3.9" lengthAdjust="spacingAndGlyphs">0</text><path d="M380.35,392.50H395.35" stroke="#274a80" stroke-width="1.3" fill="none" stroke-dasharray="3.8 1.7"/><text x="398.85" y="395.25" font-size="8.2" fill="#1c1c1c" class="tk" textLength="9.4" lengthAdjust="spacingAndGlyphs">1-2</text><path d="M380.35,403.80H395.35" stroke="#58a33a" stroke-width="1.3" fill="none" stroke-dasharray="6.6 3.0"/><text x="398.85" y="406.55" font-size="8.2" fill="#1c1c1c" class="tk" textLength="8.0" lengthAdjust="spacingAndGlyphs">&gt;3</text><polyline points="380.4,331.0 384.4,336.4 391.2,341.2 399.2,343.1 406.0,346.2 412.7,348.2 422.1,348.9 431.5,350.2 444.3,351.6 453.5,352.3 473.6,353.3 483.1,354.7 500.6,355.2 509.3,356.0" stroke="#58a33a" stroke-width="1.3" fill="none" stroke-dasharray="6.6 3.0"/><polyline points="380.4,330.1 388.5,335.3 392.5,336.8 399.2,341.0 408.6,342.5 422.1,344.0 444.3,345.3 462.9,346.9 473.6,348.2 491.1,348.6 509.3,348.6" stroke="#274a80" stroke-width="1.3" fill="none" stroke-dasharray="3.8 1.7"/><polyline points="380.4,330.1 388.5,335.0 392.5,336.4 399.2,339.9 408.6,341.5 422.1,342.8 435.6,343.5 444.3,344.2 473.6,345.3 509.3,345.3" stroke="#a3233b" stroke-width="1.5" fill="none" stroke-linejoin="round"/></g>
<rect x="0" y="0" width="520" height="1.5" fill="#4a4a4a"/><rect x="0" y="0" width="1.7" height="447" fill="#4a4a4a"/><rect x="0" y="445.2" width="520" height="1.8" fill="#4a4a4a"/><rect x="518.7" y="1.2" width="1.3" height="447" fill="#0c0c0c"/>
</svg></body></html>
